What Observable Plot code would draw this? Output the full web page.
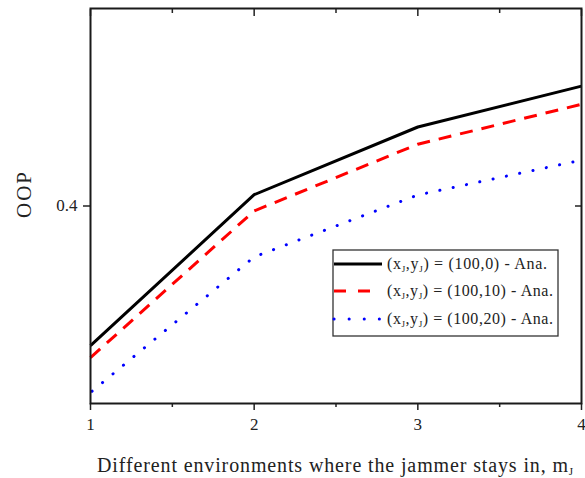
<!DOCTYPE html>
<html><head><meta charset="utf-8">
<script src="https://cdn.jsdelivr.net/npm/d3@7"></script>
<script src="https://cdn.jsdelivr.net/npm/@observablehq/plot@0.6"></script>
<style>
body{margin:0;background:#fff}
svg{font-family:"Liberation Serif","DejaVu Serif",serif}
</style>
</head><body><div id="chart"></div>
<script>
// Number of environments the jammer moves through
const environments = [1, 2, 3, 4];
// Analytical OOP for each jammer position (x_J, y_J)
const oopAt100_0 = [0.301, 0.408, 0.456, 0.485];
const oopAt100_10 = [0.2925, 0.3965, 0.4438, 0.4721];
const oopAt100_20 = [0.2678, 0.3639, 0.4078, 0.4325];
const positions = ["(100,0)", "(100,10)", "(100,20)"];
const xMajorTicks = [1, 2, 3, 4];
const xMinorTicks = [1.5, 2.5, 3.5];
const yTicks = [0.4];

const styles = [
  {stroke: "#000000", strokeDasharray: null, strokeLinecap: "butt"},
  {stroke: "#ff0000", strokeDasharray: "13,9", strokeLinecap: "butt"},
  {stroke: "#0000ff", strokeDasharray: "0.1,13.5", strokeLinecap: "round"}
];
const seriesValues = [oopAt100_0, oopAt100_10, oopAt100_20];
const rows = seriesValues.flatMap((vals, s) =>
  vals.map((v, i) => ({m: environments[i], oop: v, s})));

const lineMarks = seriesValues.map((vals, s) =>
  Plot.line(rows.filter(d => d.s === s), {
    x: "m", y: "oop",
    stroke: styles[s].stroke, strokeWidth: 3,
    strokeDasharray: styles[s].strokeDasharray,
    strokeDashoffset: s === 2 ? -2 : 0,
    strokeLinecap: styles[s].strokeLinecap
  }));

const blank = () => "";
const chart = Plot.plot({
  width: 585, height: 478,
  marginLeft: 90, marginRight: 4, marginTop: 8, marginBottom: 75,
  x: {domain: [1, 4]},
  y: {domain: [0.26, 0.54]},
  style: {fontFamily: '"Liberation Serif", serif', fontSize: "16px", color: "#222"},
  marks: [
    ...lineMarks,
    Plot.axisX(xMajorTicks, {tickSize: 7, tickPadding: 7, fontSize: 17, tickFormat: "d", label: null, strokeWidth: 1.5}),
    Plot.axisX(xMinorTicks, {tickSize: 4, tickFormat: blank, label: null, strokeWidth: 1.5}),
    Plot.axisX(xMajorTicks, {anchor: "top", tickSize: -7, tickFormat: blank, label: null, strokeWidth: 1.5}),
    Plot.axisX(xMinorTicks, {anchor: "top", tickSize: -4, tickFormat: blank, label: null, strokeWidth: 1.5}),
    Plot.axisY(yTicks, {tickSize: 7, tickPadding: 6, fontSize: 17, tickFormat: d => d.toFixed(1), label: null, strokeWidth: 1.5}),
    Plot.axisY(yTicks, {anchor: "right", tickSize: -7, tickFormat: blank, label: null, strokeWidth: 1.5}),
    Plot.frame({stroke: "#1a1a1a", strokeWidth: 2})
  ]
});

const svg = d3.select(chart);

// Axis titles
svg.append("text")
  .attr("transform", "translate(31,195) rotate(-90)")
  .attr("text-anchor", "middle").attr("font-size", 21).attr("fill", "#222")
  .attr("textLength", 46).attr("lengthAdjust", "spacing")
  .text("OOP");

const xTitle = svg.append("text")
  .attr("x", 97).attr("y", 472).attr("text-anchor", "start")
  .attr("font-size", 20).attr("fill", "#222");
xTitle.append("tspan").attr("textLength", 471).attr("lengthAdjust", "spacing")
  .text("Different environments where the jammer stays in, m");
xTitle.append("tspan").attr("font-size", 11).attr("dy", 3).text("J");

// Legend
const legend = svg.append("g");
legend.append("rect")
  .attr("x", 333).attr("y", 250).attr("width", 225).attr("height", 86)
  .attr("fill", "#fff").attr("stroke", "#333").attr("stroke-width", 1.3);
const rowY = [264, 291, 319];
const rowWidth = [160, 166, 166];
positions.forEach((p, i) => {
  legend.append("line")
    .attr("x1", 334).attr("x2", 382).attr("y1", rowY[i]).attr("y2", rowY[i])
    .attr("stroke", styles[i].stroke).attr("stroke-width", 3)
    .attr("stroke-dasharray", i === 1 ? "12,12" : i === 2 ? "0.1,15" : null)
    .attr("stroke-linecap", styles[i].strokeLinecap);
  const t = legend.append("text")
    .attr("x", 387).attr("y", rowY[i] + 5).attr("text-anchor", "start")
    .attr("font-size", 16).attr("fill", "#222")
    .attr("textLength", rowWidth[i]).attr("lengthAdjust", "spacing");
  t.append("tspan").text("(x");
  t.append("tspan").attr("font-size", 9).attr("dy", 3).text("J");
  t.append("tspan").attr("dy", -3).text(",y");
  t.append("tspan").attr("font-size", 9).attr("dy", 3).text("J");
  t.append("tspan").attr("dy", -3).text(`) = ${p} - Ana.`);
});

document.getElementById("chart").append(chart);
</script>
</body></html>
